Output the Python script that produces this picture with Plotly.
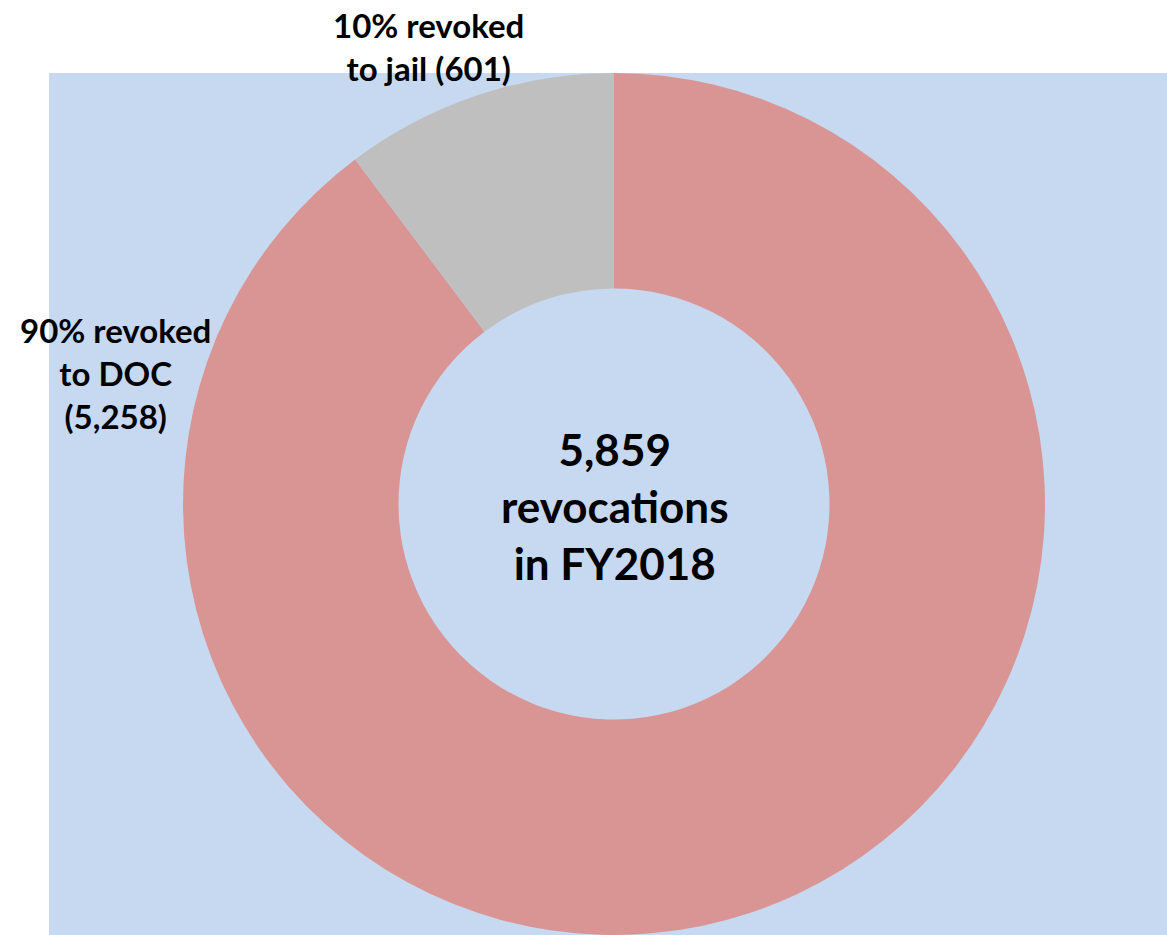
import plotly.graph_objects as go

W, H = 1167, 935

labels = ["Revoked to DOC", "Revoked to jail"]
values = [5258, 601]
colors = ["#D99594", "#BFBFBF"]
label_texts = ["90% revoked<br>to DOC<br>(5,258)", "10% revoked<br>to jail (601)"]
center_text = "5,859<br>revocations<br>in FY2018"

FONT = "Lato"

# geometry in pixels
bg_left, bg_top = 49, 73
cx, cy, r = 614, 504, 431

fig = go.Figure()
fig.add_trace(go.Pie(
    labels=labels, values=values, hole=0.5, sort=False, direction="clockwise",
    rotation=0, marker=dict(colors=colors, line=dict(width=0)),
    textinfo="none", hoverinfo="label+value+percent", showlegend=False,
    domain=dict(x=[(cx - r) / W, (cx + r) / W], y=[(H - cy - r) / H, (H - cy + r) / H]),
))

fig.add_shape(type="rect", xref="paper", yref="paper", x0=bg_left / W, x1=1, y0=0,
              y1=(H - bg_top) / H, fillcolor="#C6D9F1", line=dict(width=0), layer="below")

fig.add_annotation(text=label_texts[1], xref="paper", yref="paper", x=428 / W, y=1 - 46 / H,
                   showarrow=False, align="center", xanchor="center", yanchor="middle",
                   font=dict(family=FONT, size=33, color="black", weight="bold"))
fig.add_annotation(text=label_texts[0], xref="paper", yref="paper", x=115 / W, y=1 - 373 / H,
                   showarrow=False, align="center", xanchor="center", yanchor="middle",
                   font=dict(family=FONT, size=33, color="black", weight="bold"))
fig.add_annotation(text=center_text, xref="paper", yref="paper", x=cx / W, y=1 - 506 / H,
                   showarrow=False, align="center", xanchor="center", yanchor="middle",
                   font=dict(family=FONT, size=44, color="black", weight="bold"))

fig.update_layout(width=W, height=H, margin=dict(l=0, r=0, t=0, b=0),
                  paper_bgcolor="white", plot_bgcolor="white")

fig.write_html("out.html", config={"displayModeBar": False},
               post_script="document.body.style.margin='0';document.body.style.overflow='hidden';")
